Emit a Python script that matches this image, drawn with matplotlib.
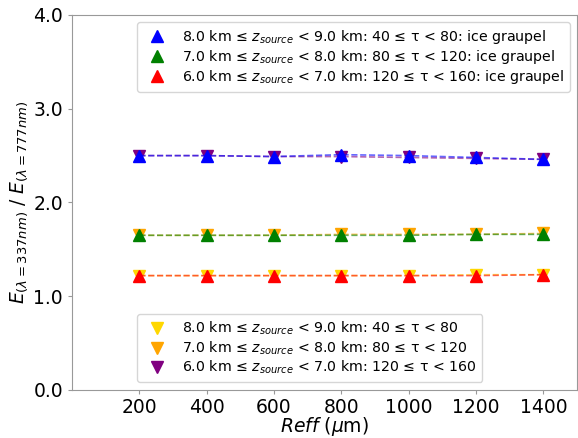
import numpy as np
import matplotlib
matplotlib.use('Agg')
from matplotlib import pyplot as plt

reff = [200, 400, 600, 800, 1000, 1200, 1400]

# ratio E(337)/E(777), ice graupel runs (up triangles)
r_8_9_ice = [2.50, 2.50, 2.49, 2.51, 2.50, 2.48, 2.46]
r_7_8_ice = [1.65, 1.65, 1.65, 1.65, 1.65, 1.66, 1.66]
r_6_7_ice = [1.22, 1.22, 1.22, 1.22, 1.22, 1.22, 1.23]

# second set (down triangles)
r_8_9 = [1.22, 1.22, 1.22, 1.22, 1.22, 1.23, 1.23]
r_7_8 = [1.65, 1.65, 1.65, 1.66, 1.66, 1.66, 1.67]
r_6_7 = [2.50, 2.50, 2.49, 2.49, 2.48, 2.47, 2.46]

lab_ice = [r'8.0 km ≤ $z_{source}$ < 9.0 km: 40 ≤ τ < 80: ice graupel',
           r'7.0 km ≤ $z_{source}$ < 8.0 km: 80 ≤ τ < 120: ice graupel',
           r'6.0 km ≤ $z_{source}$ < 7.0 km: 120 ≤ τ < 160: ice graupel']
lab = [r'8.0 km ≤ $z_{source}$ < 9.0 km: 40 ≤ τ < 80',
       r'7.0 km ≤ $z_{source}$ < 8.0 km: 80 ≤ τ < 120',
       r'6.0 km ≤ $z_{source}$ < 7.0 km: 120 ≤ τ < 160']

fig = plt.figure(figsize=(5.78, 4.38), dpi=100)
ax = fig.add_axes([0.1246, 0.1096, 0.8737, 0.8562])

down = []
for y, c, l in zip([r_8_9, r_7_8, r_6_7], ['gold', 'orange', 'purple'], lab):
    ax.plot(reff, y, '--', color=c, lw=1.2, alpha=0.6)
    h, = ax.plot(reff, y, 'v', color=c, ms=8, ls='none', label=l)
    down.append(h)

up = []
for y, c, l in zip([r_8_9_ice, r_7_8_ice, r_6_7_ice], ['blue', 'green', 'red'], lab_ice):
    ax.plot(reff, y, '--', color=c, lw=1.2, alpha=0.6)
    h, = ax.plot(reff, y, '^', color=c, ms=8, ls='none', label=l)
    up.append(h)

ax.set_xlim(0, 1500)
ax.set_ylim(0, 4)
ax.set_xticks([200, 400, 600, 800, 1000, 1200, 1400])
ax.set_yticks([0, 1, 2, 3, 4])
ax.set_yticklabels(['0.0', '1.0', '2.0', '3.0', '4.0'])
ax.tick_params(labelsize=13.5, color='#999999', length=3)
ax.tick_params(axis='x', pad=2.5)
for s in ax.spines.values():
    s.set_color('#999999')

ax.set_xlabel(r'$Reff$ ($\mu$m)', fontsize=13.5, labelpad=-1.5)
ax.set_ylabel(r'$E_{(\lambda=337nm)}$ / $E_{(\lambda=777nm)}$', fontsize=13.5, labelpad=2)

leg1 = ax.legend(handles=up, loc='upper right', fontsize=10.2, labelspacing=0.15)
ax.add_artist(leg1)
ax.legend(handles=down, loc='lower left', bbox_to_anchor=(0.129, 0.021), borderaxespad=0,
          fontsize=10.2, labelspacing=0.15)

fig.savefig('out.png', dpi=100)
